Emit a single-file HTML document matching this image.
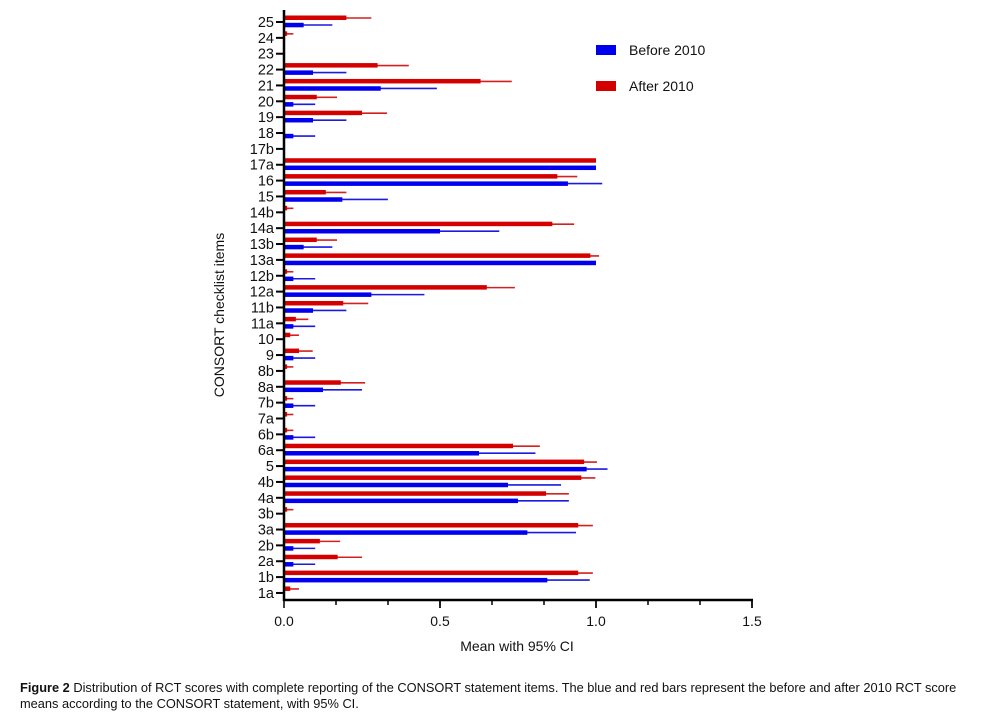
<!DOCTYPE html>
<html><head><meta charset="utf-8"><style>
body{margin:0;background:#fff;width:987px;height:728px;overflow:hidden;font-family:"Liberation Sans",Arial,sans-serif}
.cap{position:absolute;left:20px;top:680px;width:960px;font-size:12.8px;line-height:16px;color:#111;white-space:nowrap}
</style></head><body>
<svg id="chart" width="987" height="680" style="position:absolute;left:0;top:0" font-family="Liberation Sans, Arial, sans-serif"></svg>
<div class="cap"><b>Figure 2</b> Distribution of RCT scores with complete reporting of the CONSORT statement items. The blue and red bars represent the before and after 2010 RCT score<br>means according to the CONSORT statement, with 95% CI.</div>
<script>
const categories=["25","24","23","22","21","20","19","18","17b","17a","16","15","14b","14a","13b","13a","12b","12a","11b","11a","10","9","8b","8a","7b","7a","6b","6a","5","4b","4a","3b","3a","2b","2a","1b","1a"];
const afterMean=[0.20,0.01,0,0.30,0.63,0.105,0.25,0,0,1.0,0.876,0.134,0.01,0.86,0.105,0.982,0.01,0.65,0.19,0.038,0.02,0.048,0.01,0.182,0.01,0.01,0.01,0.734,0.962,0.953,0.84,0.01,0.943,0.115,0.172,0.943,0.02];
const afterHi=[0.28,0.03,0,0.40,0.73,0.17,0.33,0,0,1.0,0.94,0.20,0.03,0.93,0.17,1.01,0.03,0.74,0.27,0.078,0.048,0.092,0.03,0.26,0.03,0.03,0.03,0.82,1.003,0.998,0.913,0.03,0.99,0.18,0.25,0.99,0.048];
const beforeMean=[0.063,0,0,0.093,0.31,0.03,0.093,0.03,0,1.0,0.91,0.187,0,0.50,0.063,1.0,0.03,0.28,0.093,0.03,0,0.03,0,0.125,0.03,0,0.03,0.625,0.97,0.718,0.75,0,0.78,0.03,0.03,0.844,0];
const beforeHi=[0.155,0,0,0.20,0.49,0.10,0.20,0.10,0,1.0,1.02,0.333,0,0.69,0.155,1.0,0.10,0.45,0.20,0.10,0,0.10,0,0.25,0.10,0,0.10,0.806,1.037,0.888,0.913,0,0.936,0.10,0.10,0.98,0];
const xTicks=[0,0.5,1.0,1.5];
const xTickLabels=["0.0","0.5","1.0","1.5"];
const svg=document.getElementById('chart');const NS='http://www.w3.org/2000/svg';
const x0=284,xs=312,y0=22,ys=15.86,axY=600;
const X=v=>x0+v*xs, Y=i=>y0+i*ys;
function mk(t,a,p){const e=document.createElementNS(NS,t);for(const k in a)e.setAttribute(k,a[k]);(p||svg).appendChild(e);return e;}
categories.forEach((c,i)=>{
 const yc=Y(i);
 if(afterHi[i]>0){
  const l=mk('line',{x1:X(0),x2:X(afterHi[i]),y1:yc-4,y2:yc-4,stroke:'#d42020','stroke-width':1.6});
  
  const r=mk('rect',{x:X(0),y:yc-6.5,width:X(afterMean[i])-X(0),height:4.5,fill:'#d40000'});
  
 }
 if(beforeHi[i]>0){
  const l=mk('line',{x1:X(0),x2:X(beforeHi[i]),y1:yc+3,y2:yc+3,stroke:'#1a1ae0','stroke-width':1.6});
  
  const r=mk('rect',{x:X(0),y:yc+0.8,width:X(beforeMean[i])-X(0),height:4.5,fill:'#0000ee'});
  
 }
 const t=mk('line',{x1:x0-8,x2:x0,y1:yc,y2:yc,stroke:'#000','stroke-width':2});
 
 const tx=mk('text',{x:x0-10,y:yc+5,'text-anchor':'end','font-size':14.5,fill:'#111'});tx.textContent=c;
 
});
let a=mk('line',{x1:x0,x2:x0,y1:10,y2:axY+1,stroke:'#000','stroke-width':2.5});
a=mk('line',{x1:x0-1,x2:X(1.5)+1,y1:axY,y2:axY,stroke:'#000','stroke-width':2.5});
for(let k=1;k<=9;k++){const v=k/6;const m=mk('line',{x1:X(v),x2:X(v),y1:axY,y2:axY+(k%3==0?8:5),stroke:'#000','stroke-width':1.5});}
xTicks.forEach((v,i)=>{const m=mk('line',{x1:X(v),x2:X(v),y1:axY,y2:axY+8,stroke:'#000','stroke-width':1.5});
 const t=mk('text',{x:X(v),y:axY+26,'text-anchor':'middle','font-size':14,fill:'#111'});t.textContent=xTickLabels[i];});
let t=mk('text',{x:517,y:651,'text-anchor':'middle','font-size':14,fill:'#111'});t.textContent='Mean with 95% CI';
t=mk('text',{x:0,y:0,'text-anchor':'middle','font-size':14,fill:'#111',transform:'translate(224,315) rotate(-90)'});t.textContent='CONSORT checklist items';
let g=mk('g',{});
mk('rect',{x:596,y:45,width:20,height:10,fill:'#0000ee'},g);t=mk('text',{x:629,y:55,'font-size':14,fill:'#111'},g);t.textContent='Before 2010';
g=mk('g',{});
mk('rect',{x:596,y:81,width:20,height:10,fill:'#d40000'},g);t=mk('text',{x:629,y:91,'font-size':14,fill:'#111'},g);t.textContent='After 2010';
</script>
</body></html>
